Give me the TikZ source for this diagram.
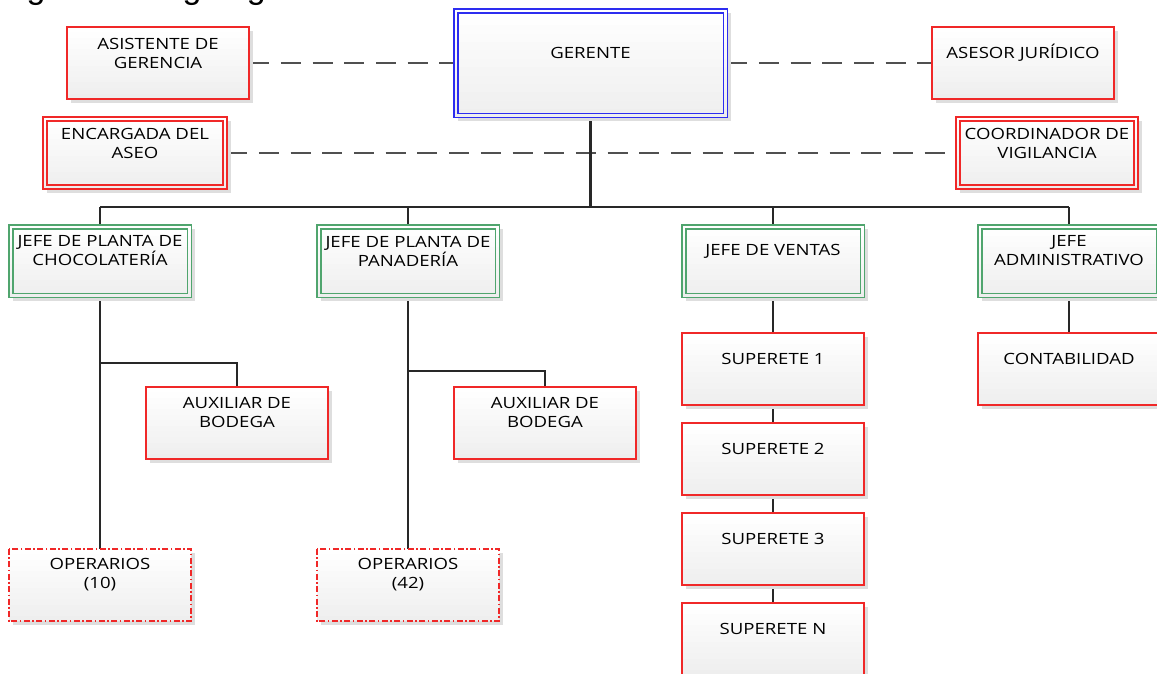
\documentclass[tikz,border=0pt]{standalone}
\usepackage{fontspec}
\setmainfont{Open Sans}[FakeStretch=1.2]
\newfontfamily\titlefont{Liberation Sans}
\usetikzlibrary{backgrounds,calc}

\definecolor{boxred}{RGB}{240,40,40}
\definecolor{boxgreen}{RGB}{80,165,110}
\definecolor{boxblue}{RGB}{45,45,240}
\definecolor{linegray}{RGB}{40,40,40}
\definecolor{dashgray}{RGB}{80,80,80}
\definecolor{cardshadow}{RGB}{222,222,222}

\tikzset{
  frame/.style={rectangle, inner sep=0pt, draw=none},
  redline/.style={draw=boxred, line width=1.5pt},
  greenline/.style={draw=boxgreen, line width=1.4pt},
  blueline/.style={draw=boxblue, line width=1.4pt},
  dashdotline/.style={draw=boxred, line width=1.5pt,
    dash pattern=on 6pt off 2.5pt on 1.5pt off 2.5pt},
  boxtext/.style={font=\fontsize{15.5}{19}\selectfont, text=black, align=center, inner sep=0pt},
  link/.style={draw=linegray, line width=2pt},
  busline/.style={draw=linegray, line width=1.6pt},
  dashlink/.style={draw=dashgray, line width=1.8pt, dash pattern=on 20pt off 11.7pt},
}

% shadow, white face and a soft top-to-bottom tint under a box
\newcommand\cardface[1]{%
  \fill[cardshadow] ([shift={(4,4)}]#1.north west) rectangle ([shift={(4,4)}]#1.south east);
  \fill[white] (#1.north west) rectangle (#1.south east);
  \foreach \k in {1,...,12}{%
    \pgfmathsetmacro\tintpct{\k*0.55}%
    \fill[black!\tintpct] ($(#1.north west)!{\k/13}!(#1.south west)$) rectangle (#1.south east);}}
% single-bordered box: name, border style, x, y, width, height, caption
\newcommand\orgbox[7]{%
  \node[frame, minimum width=#5pt, minimum height=#6pt] (#1) at (#3,#4) {};
  \cardface{#1}
  \draw[#2] (#1.north west) rectangle (#1.south east);
  \node[boxtext] (#1-text) at ([yshift=10pt]#1.center) {#7};}
% double-bordered box, same arguments
\newcommand\orgtwin[7]{%
  \node[frame, minimum width=#5pt, minimum height=#6pt] (#1) at (#3,#4) {};
  \cardface{#1}
  \draw[#2] (#1.north west) rectangle (#1.south east);
  \draw[#2] ([shift={(4,4)}]#1.north west) rectangle ([shift={(-4,-4)}]#1.south east);
  \node[boxtext] (#1-text) at ([yshift=10pt]#1.center) {#7};}

\begin{document}
\begin{tikzpicture}[x=1pt,y=-1pt]
\useasboundingbox (0,0) rectangle (1157,673);
\begin{scope}[on background layer]
  \fill[white] (0,0) rectangle (1157,673);
\end{scope}

% heading, mostly above the page edge
\node[anchor=base west, inner sep=0pt, font=\titlefont\fontsize{34}{40}\selectfont] (title) at (-2,-1.5) {Figura 1. Organigrama};

% top management
\orgtwin{ger}{blueline}{590.5}{63}{273}{108}{GERENTE}
\orgbox{asis}{redline}{158}{63}{182}{72}{ASISTENTE DE\\GERENCIA}
\orgbox{ases}{redline}{1023}{63}{182}{72}{ASESOR JURÍDICO}
\orgtwin{enc}{redline}{135}{153}{184}{72}{ENCARGADA DEL\\ASEO}
\orgtwin{coord}{redline}{1047}{153}{182}{72}{COORDINADOR DE\\VIGILANCIA}

% department heads
\orgtwin{choc}{greenline}{100}{261}{182}{72}{JEFE DE PLANTA DE\\CHOCOLATERÍA}
\orgtwin{pan}{greenline}{408}{261}{182}{72}{JEFE DE PLANTA DE\\PANADERÍA}
\orgtwin{ven}{greenline}{773}{261}{182}{72}{JEFE DE VENTAS}
\orgtwin{adm}{greenline}{1069}{261}{182}{72}{JEFE\\ADMINISTRATIVO}

% staff
\orgbox{aux1}{redline}{237}{423}{182}{72}{AUXILIAR DE\\BODEGA}
\orgbox{aux2}{redline}{545}{423}{182}{72}{AUXILIAR DE\\BODEGA}
\orgbox{op10}{dashdotline}{100}{585}{182}{72}{OPERARIOS\\(10)}
\orgbox{op42}{dashdotline}{408}{585}{182}{72}{OPERARIOS\\(42)}
\orgbox{s1}{redline}{773}{369}{182}{72}{SUPERETE 1}
\orgbox{s2}{redline}{773}{459}{182}{72}{SUPERETE 2}
\orgbox{s3}{redline}{773}{549}{182}{72}{SUPERETE 3}
\orgbox{sN}{redline}{773}{639}{182}{72}{SUPERETE N}
\orgbox{cont}{redline}{1069}{369}{182}{72}{CONTABILIDAD}

\coordinate (bus) at (0,207);
\coordinate (tap1) at (0,363);
\coordinate (tap2) at (0,371);

% connectors, kept behind the boxes
\begin{scope}[on background layer]
  \draw[dashlink] (asis.east) -- (ger.west);
  \draw[dashlink] (ger.east) -- (ases.west);
  \draw[dashlink] (enc.east) -- (coord.west);
  \draw[link, line width=2.6pt] (ger.south) -- (ger.south |- bus);
  \draw[busline] (choc |- bus) -- (adm |- bus);
  \foreach \n in {choc,pan,ven,adm} \draw[busline] (\n.north) -- (\n |- bus);
  \draw[link] (choc) -- (op10);
  \draw[link] (choc |- tap1) -| (aux1.north);
  \draw[link] (pan) -- (op42);
  \draw[link] (pan |- tap2) -| (aux2.north);
  \draw[busline] (ven) -- (s1);
  \draw[busline] (s1) -- (s2);
  \draw[busline] (s2) -- (s3);
  \draw[busline] (s3) -- (sN);
  \draw[busline] (adm) -- (cont);
\end{scope}
\end{tikzpicture}
\end{document}
